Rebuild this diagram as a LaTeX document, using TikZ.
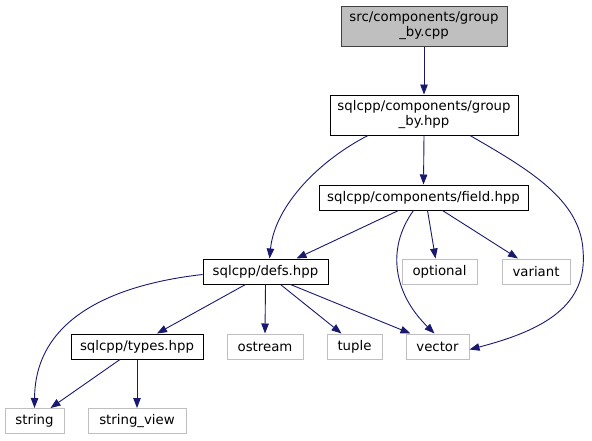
\documentclass[tikz,border=0pt]{standalone}
\usepackage{fontspec}
\setmainfont{DejaVu Sans}
\usetikzlibrary{arrows.meta}
\definecolor{edgeblue}{HTML}{191970}
\definecolor{leafgray}{HTML}{BFBFBF}
\begin{document}
\begin{tikzpicture}[x=1pt,y=-1pt,
  every node/.style={font=\fontsize{13.3}{15}\selectfont, inner sep=0pt, align=center},
  filebox/.style={draw=black, line width=1pt, fill=white, minimum height=25pt},
  mainbox/.style={draw=black!75, line width=1pt, fill=leafgray, minimum height=40pt},
  twobox/.style={draw=black, line width=1pt, fill=white, minimum height=40pt},
  leafbox/.style={draw=leafgray, line width=1pt, fill=white, minimum height=25pt},
  dep/.style={draw=edgeblue, line width=0.9pt, -{Triangle[length=10pt,width=7.5pt]}}]
\useasboundingbox (0,0) rectangle (592,440);
\node[mainbox, minimum width=166pt] (cpp) at (424,26) {src/components/group\\\_by.cpp};
\node[twobox, minimum width=188pt] (gbh) at (424,115) {sqlcpp/components/group\\\_by.hpp};
\node[filebox, minimum width=209pt] (field) at (423.5,197.5) {sqlcpp/components/field.hpp};
\node[filebox, minimum width=125pt] (defs) at (265.5,271.5) {sqlcpp/defs.hpp};
\node[leafbox, minimum width=75pt] (optional) at (439.5,271.5) {optional};
\node[leafbox, minimum width=68pt] (variant) at (536,271.5) {variant};
\node[filebox, minimum width=132pt] (types) at (137,346.5) {sqlcpp/types.hpp};
\node[leafbox, minimum width=76pt] (ostream) at (265,346.5) {ostream};
\node[leafbox, minimum width=55pt] (tuple) at (354.5,346.5) {tuple};
\node[leafbox, minimum width=63pt] (vector) at (437.5,346.5) {vector};
\node[leafbox, minimum width=59pt] (string) at (34.5,421) {string};
\node[leafbox, minimum width=98pt] (stringview) at (137,421) {string\_view};

\draw[dep] (cpp.south) -- (gbh.north);
\draw[dep] ([xshift=-56pt]gbh.south) .. controls (320,160) and (275,205) .. ([xshift=4pt]defs.north);
\draw[dep] (gbh.south) -- (field.north);
\draw[dep] ([xshift=46pt]gbh.south) .. controls (530,170) and (580,200) .. (583,250)
  .. controls (588,305) and (545,330) .. ([yshift=-3pt]vector.east);
\draw[dep] ([xshift=-25pt]field.south) -- ([xshift=31pt]defs.north);
\draw[dep] ([xshift=-10pt]field.south) .. controls (385,250) and (395,295) .. ([xshift=-3pt]vector.north);
\draw[dep] ([xshift=4pt]field.south) -- ([xshift=-4pt]optional.north);
\draw[dep] ([xshift=19pt]field.south) -- ([xshift=-18pt]variant.north);
\draw[dep] ([yshift=-3pt]defs.west) .. controls (110,285) and (35,320) .. (string.north);
\draw[dep] ([xshift=-20pt]defs.south) -- ([xshift=20pt]types.north);
\draw[dep] (defs.south) -- (ostream.north);
\draw[dep] ([xshift=15pt]defs.south) -- ([xshift=-13pt]tuple.north);
\draw[dep] ([xshift=25pt]defs.south) -- ([xshift=-27pt]vector.north);
\draw[dep] ([xshift=-17pt]types.south) -- ([xshift=16pt]string.north);
\draw[dep] (types.south) -- (stringview.north);
\end{tikzpicture}
\end{document}
